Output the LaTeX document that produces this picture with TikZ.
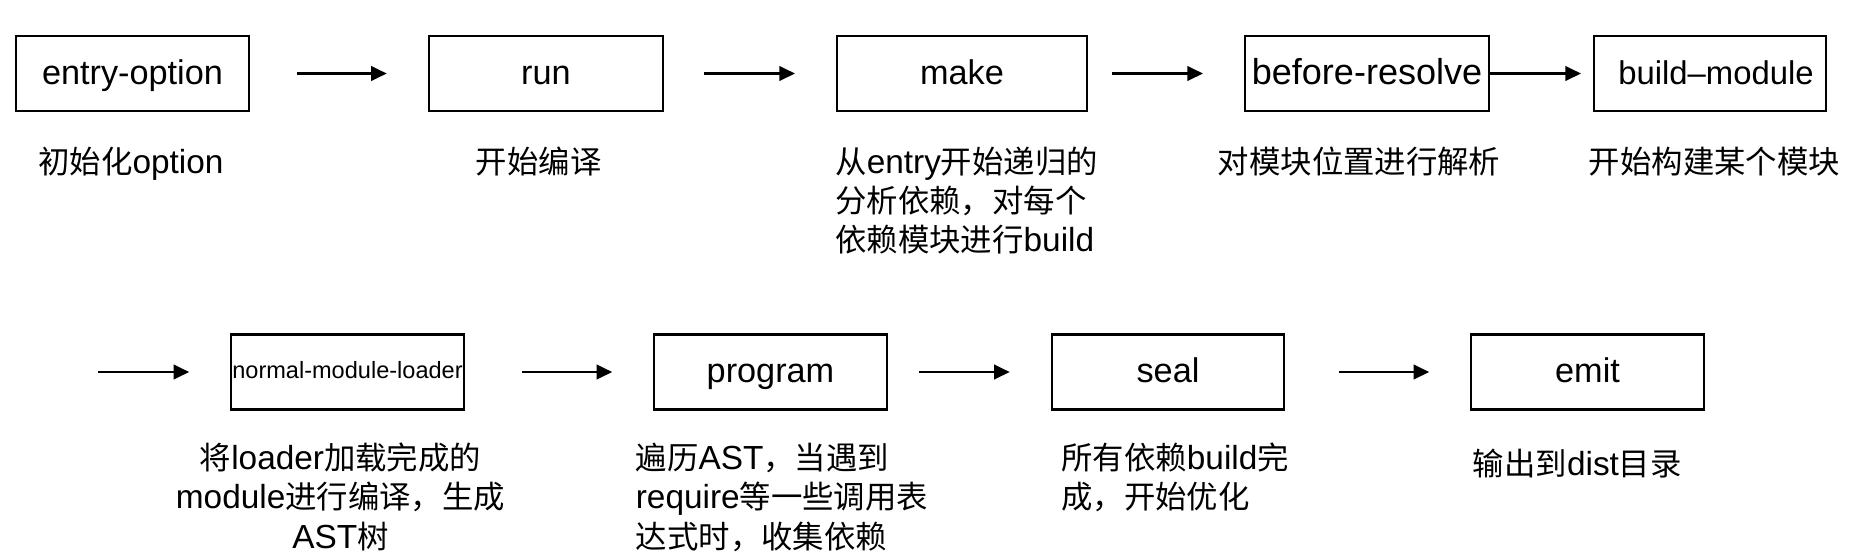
\documentclass[tikz,border=0pt]{standalone}
\usepackage{fontspec}
\setmainfont{Liberation Sans}
\newfontfamily\cjk[Scale=0.94]{Noto Sans CJK SC}
\usetikzlibrary{arrows.meta}
\newcommand{\zh}[1]{{\cjk #1}}

\begin{document}
\begin{tikzpicture}
	\tikzstyle{stage} = [draw, line width = 1.2pt, minimum width = 4.65cm, minimum height = 1.5cm, inner sep = 0pt, text height = 15.5pt, text depth = 3pt, font = \fontsize{19.5}{23}\selectfont]
	\tikzstyle{note} = [anchor = base west, align = left, inner sep = 0pt, font = \fontsize{19}{22.3}\selectfont]
	\tikzstyle{flow} = [-{Triangle[length = 0.31cm, width = 0.29cm]}, line width = 1.2pt, shorten > = 0.82cm]
	\useasboundingbox (0, 0) rectangle (37.48, -11.16);
	% first row
	\node[stage] (entry) at (2.65, -1.47) {entry-option};
	\node[stage, minimum width = 4.69cm] (run) at (10.92, -1.47) {run};
	\node[stage, minimum width = 5.0cm] (make) at (19.24, -1.47) {make};
	\node[stage, minimum width = 4.88cm, font = \fontsize{20.5}{24}\selectfont] (resolve) at (27.34, -1.47) {before-resolve};
	\node[stage, minimum width = 4.64cm, font = \fontsize{18.7}{22}\selectfont] (build) at (34.20, -1.47) {\hspace{0.24cm}build–module};
	\node[note] (entryNote) at (0.76, -3.46) {\zh{初始化}option};
	\node[note] (runNote) at (9.51, -3.46) {\zh{开始编译}};
	% base of a multi-line note is its last line
	\node[note] (makeNote) at (16.70, -5.03) {\zh{从}entry\zh{开始递归的}\\\zh{分析依赖，对每个}\\\zh{依赖模块进行}build};
	\node[note] (resolveNote) at (24.35, -3.46) {\zh{对模块位置进行解析}};
	\node[note] (buildNote) at (31.77, -3.46) {\zh{开始构建某个模块}};
	\draw[flow, shorten < = 0.95cm] (entry.east) -- (run.west);
	\draw[flow, shorten < = 0.80cm] (run.east) -- (make.west);
	\draw[flow, shorten < = 0.47cm] (make.east) -- (resolve.west);
	\draw[flow, shorten > = 0.24cm] (resolve.east) -- (build.west);
	% second row
	\coordinate (start) at (1.95, -7.44);
	\node[stage, font = \fontsize{13.4}{16}\selectfont, text height = 10pt, text depth = 3pt] (loader) at (6.95, -7.44) {normal-module-loader};
	\node[stage] (program) at (15.41, -7.44) {program};
	\node[stage] (seal) at (23.36, -7.44) {seal};
	\node[stage] (emit) at (31.75, -7.44) {emit};
	\node[note, anchor = base, align = center] (loaderNote) at (6.81, -10.96) {\zh{将}loader\zh{加载完成的}\\module\zh{进行编译，生成}\\AST\zh{树}};
	\node[note] (programNote) at (12.71, -10.96) {\zh{遍历}AST\zh{，当遇到}\\require\zh{等一些调用表}\\\zh{达式时，收集依赖}};
	\node[note] (sealNote) at (21.22, -10.17) {\zh{所有依赖}build\zh{完}\\\zh{成，开始优化}};
	\node[note] (emitNote) at (29.45, -9.51) {\zh{输出到}dist\zh{目录}};
	\draw[flow] (start) -- (loader.west);
	\draw[flow, shorten < = 1.14cm] (loader.east) -- (program.west);
	\draw[flow, shorten < = 0.63cm] (program.east) -- (seal.west);
	\draw[flow, shorten < = 1.07cm] (seal.east) -- (emit.west);
\end{tikzpicture}
\end{document}
